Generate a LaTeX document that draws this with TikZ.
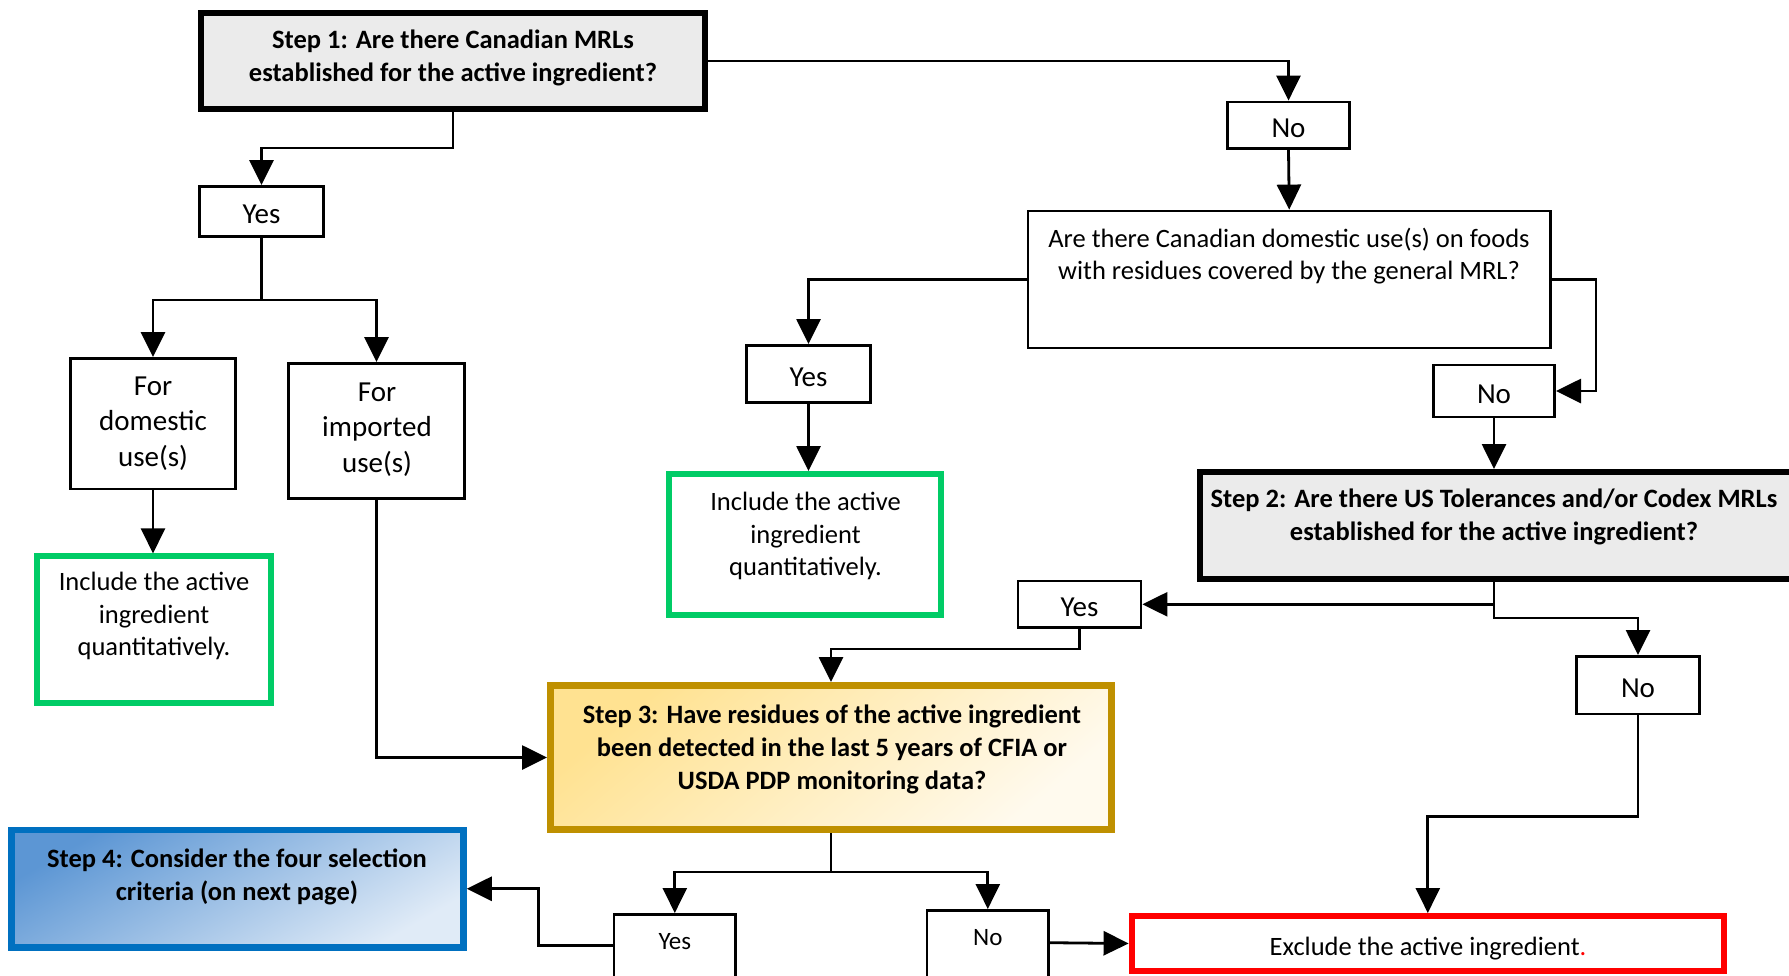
\documentclass[tikz,border=0pt]{standalone}
\usepackage{fontspec}
\setmainfont{Carlito}
\usetikzlibrary{arrows.meta}
\definecolor{gfill}{RGB}{235,235,235}
\definecolor{ggreen}{RGB}{0,204,102}
\definecolor{gold}{RGB}{191,144,0}
\definecolor{yel1}{RGB}{255,226,145}
\definecolor{yel2}{RGB}{255,250,238}
\definecolor{bblue}{RGB}{0,112,192}
\definecolor{blu1}{RGB}{92,150,212}
\definecolor{blu2}{RGB}{224,235,247}
\newcommand\mkbox[6]{%
  \pgfmathsetmacro\mkW{#5-#3}\pgfmathsetmacro\mkH{#6-#4}%
  \pgfmathsetmacro\mkX{(#3+#5)/2}\pgfmathsetmacro\mkY{(#4+#6)/2}%
  \node[#1, minimum width=\mkW pt, minimum height=\mkH pt] (#2) at (\mkX,\mkY) {};}
\newcommand\mklbox[7]{%
  \pgfmathsetmacro\mkW{#5-#3}\pgfmathsetmacro\mkH{#6-#4}%
  \pgfmathsetmacro\mkX{(#3+#5)/2}\pgfmathsetmacro\mkY{(#4+#6)/2}%
  \node[#1, minimum width=\mkW pt, minimum height=\mkH pt] (#2) at (\mkX,\mkY) {\raisebox{-3pt}[\height][\depth]{#7}};}
\tikzset{
  bxbase/.style={rectangle, inner sep=0pt},
  smallbox/.style={bxbase, draw=black, line width=2.8pt, fill=white},
  stepbox/.style={bxbase, draw=black, line width=6pt, fill=gfill},
  greenbox/.style={bxbase, draw=ggreen, line width=6pt, fill=white},
  goldbox/.style={bxbase, draw=gold, line width=7pt, top color=yel1, bottom color=yel2, shading angle=40},
  bluebox/.style={bxbase, draw=bblue, line width=6.5pt, top color=blu1, bottom color=blu2, shading angle=30},
  redbox/.style={bxbase, draw=red, line width=6pt, fill=white},
  conn/.style={line width=2.8pt, -{Triangle[length=25pt,width=24pt]}},
  cline/.style={line width=2.8pt},
  btxt/.style={inner sep=0pt, align=center, font=\fontsize{26.5}{33}\bfseries\selectfont},
  ntxt/.style={inner sep=0pt, align=center, font=\fontsize{26.5}{32.5}\selectfont},
  ltxt/.style={inner sep=0pt, align=center, font=\fontsize{29}{35.4}\selectfont},
  ynbig/.style={font=\fontsize{29}{35}\selectfont},
  ynsmall/.style={inner sep=0pt, font=\fontsize{25}{30}\selectfont},
}
\begin{document}
\begin{tikzpicture}[x=1pt, y=-1pt]
\clip (0,0) rectangle (1789,975);
\fill[white] (0,0) rectangle (1789,975);
% boxes
\mkbox{stepbox}{s1}{201}{13}{705}{109}
\mklbox{smallbox,ynbig}{no1}{1227.4}{102}{1349.6}{148.6}{No}
\mklbox{smallbox,ynbig}{yes1}{199.4}{186.4}{323.6}{236.6}{Yes}
\mkbox{smallbox}{q2}{1028}{211}{1550.5}{348}
\mklbox{smallbox,ynbig}{yes2}{746.4}{345.4}{870.6}{402.6}{Yes}
\mklbox{smallbox,ynbig}{no2}{1433.4}{365}{1554.6}{417}{No}
\mkbox{smallbox}{dom}{70.4}{358.4}{235.6}{489}
\mkbox{smallbox}{imp}{288.4}{363.4}{464.6}{498.6}
\mkbox{greenbox}{g1}{37}{556.4}{271}{703}
\mkbox{greenbox}{g2}{669}{474}{941}{615}
\mkbox{stepbox}{s2}{1200}{472}{1812}{579}
\mklbox{smallbox,ynbig}{yes3}{1018}{581}{1141}{627.6}{Yes}
\mklbox{smallbox,ynbig}{no3}{1576.4}{656.4}{1699.6}{714}{No}
\mkbox{goldbox}{s3}{550.5}{685.5}{1111.5}{829.5}
\mkbox{bluebox}{s4}{11.5}{830}{463.5}{947.5}
\mkbox{smallbox}{yes4}{614}{914.4}{735.6}{985}
\mkbox{smallbox}{no4}{927}{910.4}{1048.6}{985}
\mkbox{redbox}{ex}{1131.6}{916}{1724}{971}
% texts
\node[btxt] (t1) at (453,58) {Step 1: Are there Canadian MRLs\\established for the active ingredient?};
\node[ntxt] (tq2) at (1289,256) {Are there Canadian domestic use(s) on foods\\with residues covered by the general MRL?};
\node[btxt] (ts2) at (1494,517) {Step 2: Are there US Tolerances and/or Codex MRLs\\established for the active ingredient?};
\node[btxt] (ts3) at (832,749.5) {Step 3: Have residues of the active ingredient\\been detected in the last 5 years of CFIA or\\USDA PDP monitoring data?};
\node[btxt] (ts4) at (237,877) {Step 4: Consider the four selection\\criteria (on next page)};
\node[ltxt] (tdom) at (153,423.5) {For\\domestic\\use(s)};
\node[ltxt] (timp) at (377,429.5) {For\\imported\\use(s)};
\node[ntxt] (tg1) at (154,616) {Include the active\\ingredient\\quantitatively.};
\node[ntxt] (tg2) at (805.5,536) {Include the active\\ingredient\\quantitatively.};
\node[ntxt] (tex) at (1428,948.5) {Exclude the active ingredient\textcolor{red}{.}};
\node[ynsmall] (tyes4) at (674.8,942) {Yes};
\node[ynsmall] (tno4) at (987.8,938) {No};
% connectors
\draw[conn] (s1.east) -| (no1.north);
\draw[conn] (s1.south) -- ++(0,36) -| (yes1.north);
\coordinate (j1) at (261.5,300);
\draw[cline] (yes1.south) -- (j1);
\draw[conn] (j1) -| (dom.north);
\draw[conn] (j1) -| (imp.north);
\draw[conn] (dom.south) -- (dom.south |- g1.north);
\draw[conn] (imp.south) |- (s3.west);
\draw[conn] (no1.south) -- (q2.north);
\draw[conn] (q2.west) -| (yes2.north);
\draw[conn] (yes2.south) -- (yes2.south |- g2.north);
\draw[conn] (q2.east) -- ++(44,0) |- (no2.east);
\draw[conn] (no2.south) -- (no2.south |- s2.north);
\draw[conn] (no2.south |- s2.south) |- (yes3.east);
\draw[conn] (no2.south |- s2.south) -- ++(0,36) -| (no3.north);
\draw[conn] (yes3.south) -- ++(0,20) -| (s3.north);
\draw[conn] (no3.south) -- ++(0,101) -| (ex.north);
\coordinate (j3) at (831,872);
\draw[cline] (s3.south) -- (j3);
\draw[conn] (j3) -| (yes4.north);
\draw[conn] (j3) -| (no4.north);
\draw[conn] ([yshift=4pt]yes4.west) -- ++(-74,0) |- (s4.east);
\draw[conn] ([yshift=5pt]no4.east) -- (ex.west);
\end{tikzpicture}
\end{document}
